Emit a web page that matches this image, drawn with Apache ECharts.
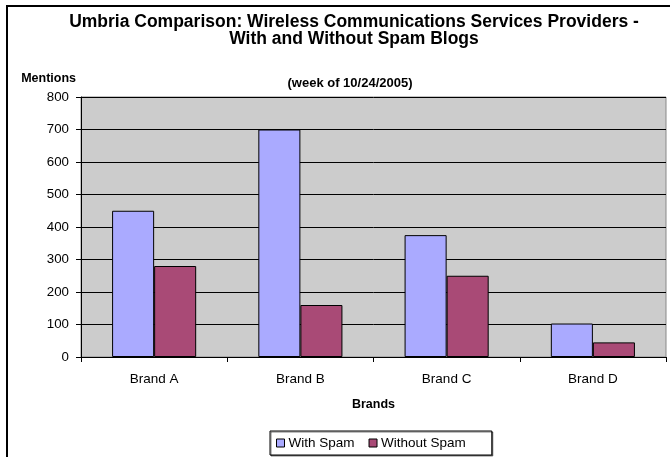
<!DOCTYPE html>
<html>
<head>
<meta charset="utf-8">
<script src="https://cdn.jsdelivr.net/npm/echarts@6/dist/echarts.min.js"></script>
<style>html,body{margin:0;padding:0;background:#fff}#c{width:670px;height:457px}</style>
</head>
<body>
<div id="c"></div>
<script>
var categories = ['Brand A', 'Brand B', 'Brand C', 'Brand D'];
var withSpam = [450, 700, 375, 103];
var withoutSpam = [280, 160, 250, 45];
var seriesNames = ['With Spam', 'Without Spam'];

var chart = echarts.init(document.getElementById('c'), null, {renderer: 'canvas'});
var FONT = 'Liberation Sans, Arial, sans-serif';
chart.setOption({
  backgroundColor: '#ffffff',
  animation: false,
  title: [{
    text: 'Umbria Comparison: Wireless Communications Services Providers -\nWith and Without Spam Blogs',
    left: 349, top: 9, textAlign: 'center',
    textStyle: {fontFamily: FONT, fontSize: 17.5, fontWeight: 'bold', color: '#000', lineHeight: 17}
  }, {
    text: '(week of 10/24/2005)',
    left: 345, top: 72, textAlign: 'center',
    textStyle: {fontFamily: FONT, fontSize: 13, fontWeight: 'bold', color: '#000'}
  }],
  graphic: [{
    type: 'polyline',
    shape: {points: [[7, 470], [7, 6], [680, 6]]},
    style: {stroke: '#000', lineWidth: 2, fill: null},
    z: 100
  }],
  legend: {
    data: seriesNames,
    left: 270, top: 431,
    orient: 'horizontal',
    icon: 'rect',
    itemWidth: 8, itemHeight: 8,
    itemGap: 14,
    padding: [5, 26, 5, 6],
    borderColor: '#000', borderWidth: 1,
    shadowColor: 'rgba(0,0,0,0.5)', shadowOffsetX: 1, shadowOffsetY: 1, shadowBlur: 0,
    backgroundColor: '#fff',
    textStyle: {fontFamily: FONT, fontSize: 13.5, color: '#000', padding: [0, 0, 0, -1]},
    itemStyle: {borderColor: '#000', borderWidth: 1}
  },
  grid: {
    left: 81, top: 97, right: 4, bottom: 100,
    show: true, backgroundColor: '#cccccc', borderColor: '#888888', borderWidth: 1
  },
  xAxis: {
    type: 'category',
    data: categories,
    name: 'Brands',
    nameLocation: 'middle',
    nameGap: 41,
    nameTextStyle: {fontFamily: FONT, fontSize: 12.5, fontWeight: 'bold', color: '#000'},
    axisLine: {lineStyle: {color: '#000', width: 1}},
    axisTick: {show: true, length: 5, lineStyle: {color: '#000'}},
    axisLabel: {fontFamily: FONT, fontSize: 13.5, color: '#000', margin: 15}
  },
  yAxis: {
    type: 'value',
    min: 0, max: 800, interval: 100,
    name: 'Mentions',
    nameLocation: 'end',
    nameGap: 12,
    nameTextStyle: {fontFamily: FONT, fontSize: 12.5, fontWeight: 'bold', color: '#000', align: 'right', padding: [0, 5, 0, 0]},
    axisLine: {show: true, lineStyle: {color: '#000', width: 1}},
    axisTick: {show: true, length: 5, lineStyle: {color: '#000'}},
    axisLabel: {fontFamily: FONT, fontSize: 13.3, color: '#000', margin: 12},
    splitLine: {show: true, lineStyle: {color: '#000', width: 1}}
  },
  series: [{
    name: seriesNames[0], type: 'bar', data: withSpam,
    barGap: '0%', barCategoryGap: '42.5%',
    itemStyle: {color: '#aaaaff', borderColor: '#000', borderWidth: 1}
  }, {
    name: seriesNames[1], type: 'bar', data: withoutSpam,
    itemStyle: {color: '#a94a76', borderColor: '#000', borderWidth: 1}
  }]
});
</script>
</body>
</html>
